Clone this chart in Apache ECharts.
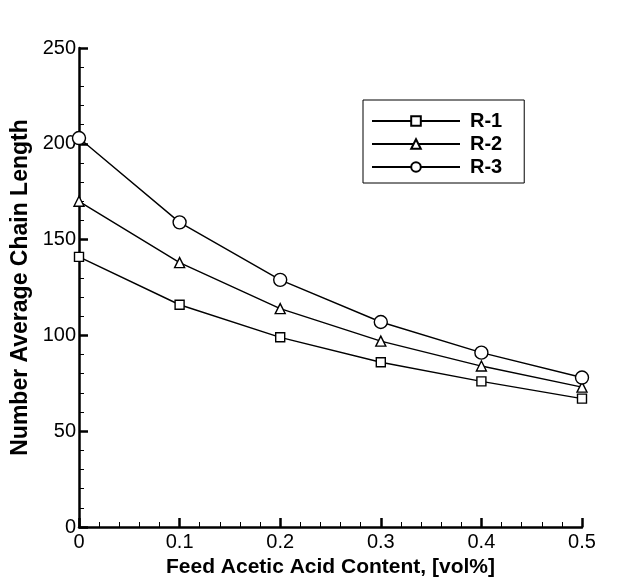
<!DOCTYPE html>
<html>
<head>
<meta charset="utf-8">
<script src="https://cdn.jsdelivr.net/npm/echarts@6/dist/echarts.min.js"></script>
<style>html,body{margin:0;padding:0;background:#fff}#c{width:624px;height:583px}</style>
</head>
<body>
<div id="c"></div>
<script>
var xValues = [0, 0.1, 0.2, 0.3, 0.4, 0.5];
var r1 = [141, 116, 99, 86, 76, 67];
var r2 = [170, 138, 114, 97, 84, 73];
var r3 = [203, 159, 129, 107, 91, 78];
var seriesNames = ['R-1', 'R-2', 'R-3'];

function pairs(v) { return xValues.map(function (x, i) { return [x, v[i]]; }); }

var font = 'Liberation Sans, Arial, sans-serif';
var chart = echarts.init(document.getElementById('c'));
function mk(name, data, symbol, size) {
  return {
    name: name, type: 'line', data: pairs(data), symbol: symbol, symbolSize: size,
    lineStyle: { color: '#000', width: 1.4 },
    itemStyle: { color: '#fff', borderColor: '#000', borderWidth: 1.4 },
    showAllSymbol: true, animation: false, z: 3
  };
}
chart.setOption({
  animation: false,
  backgroundColor: '#fff',
  grid: { left: 79, right: 42, top: 48, bottom: 56 },
  legend: {
    orient: 'vertical', left: 363, top: 100,
    itemWidth: 88, itemHeight: 12, itemGap: 3,
    borderColor: '#000', borderWidth: 1, padding: [11, 22, 6, 8],
    textStyle: { fontFamily: font, fontSize: 20, fontWeight: 'bold', color: '#000', padding: [0, 0, 0, 5] },
    data: seriesNames
  },
  xAxis: {
    type: 'value', min: 0, max: 0.5, interval: 0.1,
    name: 'Feed Acetic Acid Content, [vol%]', nameLocation: 'middle', nameGap: 30,
    nameTextStyle: { fontFamily: font, fontSize: 21, fontWeight: 'bold', color: '#000' },
    axisLine: { lineStyle: { color: '#000', width: 2.5 } },
    axisTick: { inside: true, length: 9, lineStyle: { color: '#000', width: 2.5 } },
    minorTick: { show: true, splitNumber: 5, length: 5, lineStyle: { color: '#000', width: 1 } },
    axisLabel: { fontFamily: font, fontSize: 20, color: '#000', margin: 5, formatter: function (v) { return String(v); } },
    splitLine: { show: false }
  },
  yAxis: {
    type: 'value', min: 0, max: 250, interval: 50,
    name: 'Number Average Chain Length', nameLocation: 'middle', nameGap: 42,
    nameTextStyle: { fontFamily: font, fontSize: 23, fontWeight: 'bold', color: '#000' },
    axisLine: { lineStyle: { color: '#000', width: 2.5 } },
    axisTick: { inside: true, length: 9, lineStyle: { color: '#000', width: 2.5 } },
    minorTick: { show: true, splitNumber: 5, length: 5, lineStyle: { color: '#000', width: 1 } },
    axisLabel: { fontFamily: font, fontSize: 20, color: '#000', margin: 3 },
    splitLine: { show: false }
  },
  series: [
    mk(seriesNames[0], r1, 'rect', 9),
    mk(seriesNames[1], r2, 'triangle', 10),
    mk(seriesNames[2], r3, 'circle', 13)
  ]
});
</script>
</body>
</html>
